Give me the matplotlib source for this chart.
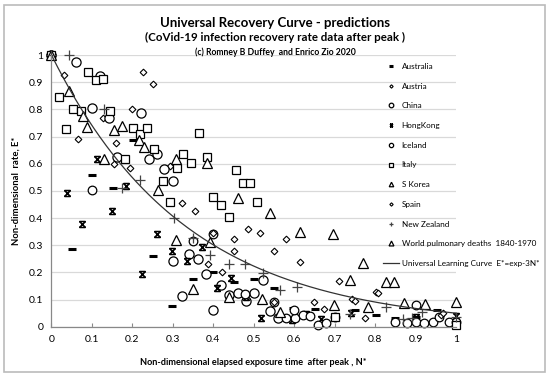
import numpy as np
import matplotlib
matplotlib.use("Agg")
import matplotlib.pyplot as plt
from matplotlib.path import Path
from matplotlib.patches import Rectangle

plt.rcParams['font.family'] = ['Lato', 'DejaVu Sans']

# ---- data (N*, E*) ----
australia_x = [0, 0.05, 0.1, 0.151, 0.201, 0.25, 0.298, 0.351, 0.40, 0.45, 0.5, 0.549, 0.598, 0.652, 0.70, 0.751, 0.803, 0.85, 0.90, 0.953, 1.0]
australia_y = [1, 0.286, 0.558, 0.512, 0.687, 0.261, 0.077, 0.174, 0.202, 0.166, 0.174, 0.141, 0.068, 0.064, 0.045, 0.061, 0.043, 0.031, 0.035, 0.061, 0.02]

austria_x = [0, 0.032, 0.065, 0.128, 0.155, 0.16, 0.194, 0.2, 0.227, 0.25, 0.292, 0.323, 0.355]
austria_y = [1, 0.927, 0.692, 0.767, 0.6, 0.675, 0.585, 0.802, 0.937, 0.892, 0.591, 0.454, 0.426]

china_x = [0, 0.061, 0.1, 0.12, 0.141, 0.161, 0.221, 0.24, 0.26, 0.278, 0.3, 0.3, 0.322, 0.341, 0.362, 0.382, 0.40, 0.42, 0.44, 0.46, 0.48, 0.5, 0.522, 0.541, 0.561]
china_y = [1, 0.975, 0.805, 0.923, 0.769, 0.626, 0.785, 0.617, 0.635, 0.582, 0.537, 0.242, 0.114, 0.268, 0.248, 0.194, 0.061, 0.153, 0.117, 0.125, 0.095, 0.123, 0.172, 0.058, 0.031]

hongkong_x = [0, 0.038, 0.075, 0.112, 0.149, 0.184, 0.223, 0.26, 0.298, 0.335, 0.372, 0.409, 0.444, 0.48, 0.519, 0.594, 0.63, 0.667, 0.741, 0.9, 1.0]
hongkong_y = [1, 0.491, 0.378, 0.617, 0.427, 0.518, 0.193, 0.341, 0.28, 0.242, 0.292, 0.141, 0.18, 0.11, 0.031, 0.025, 0.045, 0.03, 0.05, 0.035, 0.04]

iceland_x = [0, 0.1, 0.351, 0.40, 0.479, 0.551, 0.58, 0.601, 0.6, 0.621, 0.64, 0.66, 0.679, 0.702, 0.85, 0.879, 0.901, 0.901, 0.92, 0.943, 0.957, 0.982, 1.0]
iceland_y = [1, 0.504, 0.315, 0.341, 0.119, 0.092, 0.033, 0.031, 0.062, 0.043, 0.04, 0.006, 0.013, 0.037, 0.018, 0.015, 0.018, 0.08, 0.015, 0.018, 0.037, 0.018, 0.018]

italy_x = [0, 0.019, 0.036, 0.054, 0.073, 0.091, 0.109, 0.128, 0.145, 0.182, 0.201, 0.219, 0.236, 0.254, 0.275, 0.292, 0.31, 0.326, 0.345, 0.365, 0.384, 0.40, 0.419, 0.438, 0.456, 0.473, 0.491, 0.509, 0.702, 1.0]
italy_y = [1, 0.846, 0.729, 0.80, 0.795, 0.939, 0.908, 0.911, 0.793, 0.617, 0.731, 0.709, 0.731, 0.653, 0.537, 0.46, 0.583, 0.636, 0.601, 0.714, 0.623, 0.476, 0.449, 0.403, 0.577, 0.528, 0.528, 0.46, 0.037, 0.006]

skorea_x = [0, 0.044, 0.077, 0.089, 0.13, 0.155, 0.175, 0.217, 0.229, 0.263, 0.308, 0.384]
skorea_y = [1, 0.867, 0.777, 0.736, 0.616, 0.724, 0.739, 0.687, 0.66, 0.503, 0.617, 0.604]

spain_x = [0.388, 0.40, 0.421, 0.45, 0.452, 0.485, 0.516, 0.549, 0.549, 0.58, 0.615, 0.648, 0.674, 0.71, 0.743, 0.751, 0.776, 0.803, 0.806, 0.962, 0.968]
spain_y = [0.231, 0.344, 0.202, 0.28, 0.322, 0.36, 0.344, 0.28, 0.092, 0.322, 0.239, 0.092, 0.064, 0.169, 0.101, 0.095, 0.031, 0.129, 0.123, 0.043, 0.049]

nz_x = [0, 0.044, 0.131, 0.174, 0.219, 0.304, 0.349, 0.392, 0.438, 0.479, 0.522, 0.566, 0.608, 0.739, 0.826, 0.869, 0.891, 0.916, 1.0]
nz_y = [1, 1.0, 0.80, 0.509, 0.54, 0.401, 0.325, 0.264, 0.231, 0.231, 0.199, 0.135, 0.145, 0.047, 0.071, 0.027, 0.031, 0.055, 0.037]

world_x = [0.307, 0.35, 0.392, 0.438, 0.462, 0.52, 0.539, 0.566, 0.615, 0.695, 0.698, 0.739, 0.77, 0.783, 0.826, 0.846, 0.871, 0.923, 1.0]
world_y = [0.319, 0.138, 0.313, 0.11, 0.474, 0.101, 0.42, 0.055, 0.35, 0.34, 0.08, 0.172, 0.236, 0.071, 0.166, 0.166, 0.086, 0.082, 0.092]

x_ticks = [0, 0.1, 0.2, 0.3, 0.4, 0.5, 0.6, 0.7, 0.8, 0.9, 1]
y_ticks = [0, 0.1, 0.2, 0.3, 0.4, 0.5, 0.6, 0.7, 0.8, 0.9, 1]

# x with bars on top and bottom (hourglass-like cross)
hk_marker = Path([(-1, -1), (1, 1), (-1, 1), (1, -1), (-1, 1), (1, 1), (-1, -1), (1, -1)],
                 [Path.MOVETO, Path.LINETO, Path.MOVETO, Path.LINETO,
                  Path.MOVETO, Path.LINETO, Path.MOVETO, Path.LINETO])

fig = plt.figure(figsize=(5.5, 3.77), dpi=100)
ax = fig.add_axes([0.0936, 0.1334, 0.7355, 0.7207])

kw = dict(linestyle='none', markerfacecolor='white', markeredgecolor='black', clip_on=False)
ax.plot(australia_x, australia_y, marker='_', ms=6, mew=2.2, color='black', linestyle='none', clip_on=False, label='Australia')
ax.plot(austria_x, austria_y, marker='D', ms=3.4, mew=0.8, label='Austria', **kw)
ax.plot(china_x, china_y, marker='o', ms=6.6, mew=0.9, label='China', **kw)
ax.plot(hongkong_x, hongkong_y, marker=hk_marker, ms=4.3, mew=1.1, color='black', linestyle='none', clip_on=False, label='HongKong')
ax.plot(iceland_x, iceland_y, marker='o', ms=6.2, mew=0.9, label='Iceland', **kw)
ax.plot(italy_x, italy_y, marker='s', ms=5.8, mew=0.9, label='Italy', **kw)
ax.plot(skorea_x, skorea_y, marker='^', ms=6.5, mew=0.9, label='S Korea', **kw)
ax.plot(spain_x, spain_y, marker='D', ms=3.4, mew=0.8, label='Spain', **kw)
ax.plot(nz_x, nz_y, marker='+', ms=6.5, mew=0.9, color='#444444', linestyle='none', clip_on=False, label='New Zealand')
ax.plot(world_x, world_y, marker='^', ms=7, mew=0.9, label='World pulmonary deaths  1840-1970', **kw)

n = np.linspace(0, 1, 200)
ax.plot(n, np.exp(-3 * n), color='#333333', lw=0.9, label='Universal Learning Curve  E*=exp-3N*')

ax.set_xlim(0, 1)
ax.set_ylim(0, 1)
ax.set_xticks(x_ticks)
ax.set_xticklabels([f'{t:g}' for t in x_ticks])
ax.set_yticks(y_ticks)
ax.set_yticklabels([f'{t:g}' for t in y_ticks])
ax.grid(axis='y', color='#d9d9d9', lw=0.9)
ax.set_axisbelow(True)
for s in ['top', 'right']:
    ax.spines[s].set_visible(False)
for s in ['left', 'bottom']:
    ax.spines[s].set_color('#888888')
    ax.spines[s].set_linewidth(0.9)
ax.tick_params(axis='x', direction='in', length=3, color='#888888', labelsize=7.5, pad=6)
ax.tick_params(axis='y', length=0, labelsize=7.5, pad=6)

ax.set_xlabel('Non-dimensional elapsed exposure time  after peak , N*', fontsize=6.6, fontweight='bold', labelpad=10)
ax.set_ylabel('Non-dimensional  rate, E*', fontsize=6.8, fontweight='bold', labelpad=6)

fig.text(0.5, 0.940, 'Universal Recovery Curve - predictions', ha='center', va='center', fontsize=9.5, fontweight='bold')
fig.text(0.5, 0.900, '(CoVid-19 infection recovery rate data after peak )', ha='center', va='center', fontsize=8.3, fontweight='bold')
fig.text(0.5, 0.862, '(c) Romney B Duffey  and Enrico Zio 2020', ha='center', va='center', fontsize=6.2, fontweight='bold')

ax.legend(loc='upper left', bbox_to_anchor=(0.696, 0.833), bbox_transform=fig.transFigure,
          frameon=False, fontsize=5.9, handlelength=2.0, handletextpad=0.3, labelspacing=1.55,
          borderpad=0, borderaxespad=0, markerscale=0.5)

fig.patches.append(Rectangle((4 / 550, 5 / 377), 541 / 550, 367 / 377, transform=fig.transFigure,
                             fill=False, edgecolor='#bbbbbb', lw=1.2))

fig.savefig('out.png', dpi=100)
